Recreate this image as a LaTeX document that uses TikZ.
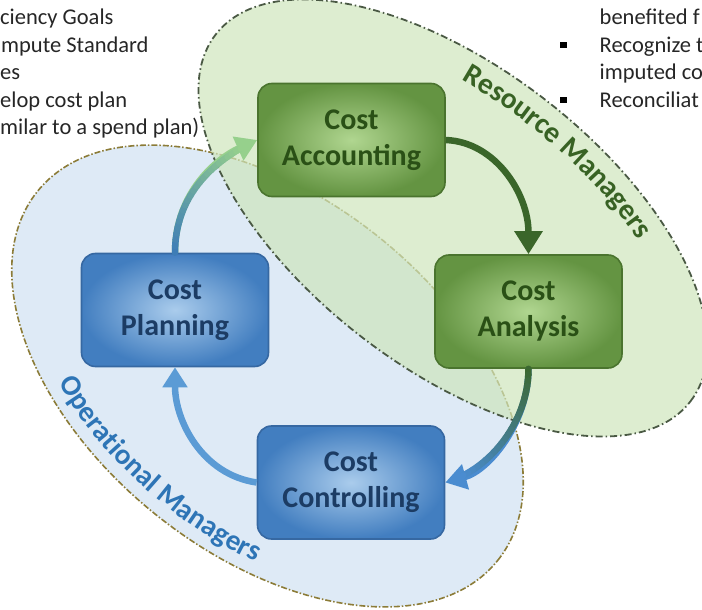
\documentclass[tikz,border=0pt]{standalone}
\usepackage{fontspec}
\setmainfont{Carlito}
\usetikzlibrary{arrows.meta,decorations.text}

\definecolor{opfill}{RGB}{222,234,246}
\definecolor{opedge}{RGB}{140,124,56}
\definecolor{resfill}{RGB}{206,229,188}
\definecolor{resedge}{RGB}{74,89,68}
\definecolor{gboxin}{RGB}{176,214,144}
\definecolor{gboxout}{RGB}{100,148,66}
\definecolor{gboxline}{RGB}{74,116,46}
\definecolor{gtext}{RGB}{42,80,22}
\definecolor{bboxin}{RGB}{170,204,236}
\definecolor{bboxout}{RGB}{66,126,192}
\definecolor{bboxline}{RGB}{54,104,162}
\definecolor{btext}{RGB}{28,60,100}
\definecolor{reslabel}{RGB}{56,98,36}
\definecolor{oplabel}{RGB}{46,117,182}
\definecolor{darkflow}{RGB}{58,102,42}
\definecolor{blueflow}{RGB}{74,140,208}
\definecolor{midblueflow}{RGB}{58,122,184}
\definecolor{lightblueflow}{RGB}{91,155,213}
\definecolor{lightgreenflow}{RGB}{150,208,140}
\definecolor{bodytext}{RGB}{38,38,38}

\newcommand\boxfont{\bfseries\fontsize{30}{36}\selectfont}
\newcommand\bodyfont{\fontsize{22.5}{27}\selectfont}
\newcommand\reslabelfont{\bfseries\fontsize{29.5}{29.5}\selectfont}
\newcommand\oplabelfont{\bfseries\fontsize{29}{29}\selectfont}

% curved connector whose colour runs from #5 (start) to #6 (end)
\newcommand\shadedflow[6]{%
  \draw[flowline, #6, -{Triangle[width=25pt,length=21pt]}] #1 .. controls #2 and #3 .. #4;
  \path #1 .. controls #2 and #3 .. #4
    foreach \k in {0,...,24} {coordinate[pos=\k*0.0375] (fl\k)};
  \foreach \k [remember=\k as \j (initially 0)] in {1,...,24} {%
    \pgfmathtruncatemacro\mixpct{round(100*\k/24)}%
    \draw[flowline, line cap=round, #6!\mixpct!#5] (fl\j) -- (fl\k);
  }%
}

\tikzset{
  stepbox/.style={rounded corners=14pt, minimum width=187pt, minimum height=113pt,
    inner sep=0pt, line width=1.6pt, font=\boxfont, align=center},
  greenbox/.style={stepbox, draw=gboxline, inner color=gboxin, outer color=gboxout, text=gtext},
  bluebox/.style={stepbox, draw=bboxline, inner color=bboxin, outer color=bboxout, text=btext},
  flowline/.style={line width=6.5pt},
  bodyline/.style={anchor=base west, inner sep=0pt, font=\bodyfont, text=bodytext},
  bulletmark/.style={fill=black, minimum size=6.5pt, inner sep=0pt},
}

\begin{document}
\begin{tikzpicture}[x=1pt, y=-1pt]
\useasboundingbox (0,0) rectangle (702,610);

% operational managers region
\begin{scope}[shift={(267.5,376)}, rotate=-38.7]
  \fill[opfill] (0,0) ellipse[x radius=295pt, y radius=178pt];
  \draw[opedge, line width=1.6pt, dash pattern=on 6pt off 2pt on 1.5pt off 2pt]
    (0,0) ellipse[x radius=295pt, y radius=178pt];
\end{scope}

% resource managers region
\begin{scope}[shift={(453,218)}, rotate=-37.7]
  \fill[resfill, opacity=0.7] (0,0) ellipse[x radius=300pt, y radius=150pt];
  \draw[resedge, line width=1.8pt, dash pattern=on 7pt off 3pt on 1.5pt off 3pt]
    (0,0) ellipse[x radius=300pt, y radius=150pt];
  \path[decorate, decoration={text along path, text color=reslabel,
      text={|\reslabelfont|Resource Managers}, text align=left}]
    (107:266pt and 120pt) arc[start angle=107, end angle=25, x radius=266pt, y radius=120pt];
\end{scope}

\begin{scope}[shift={(267.5,376)}, rotate=-38.7]
  \path[decorate, decoration={text along path, text color=oplabel,
      text={|\oplabelfont|Operational Managers}, text align=left}]
    (235.5:281pt and 165pt) arc[start angle=235.5, end angle=310, x radius=281pt, y radius=165pt];
\end{scope}

% process steps
\node[greenbox] (acc)  at (351.5,140)   {Cost\\Accounting};
\node[greenbox] (ana)  at (528.5,311.5) {Cost\\Analysis};
\node[bluebox]  (plan) at (175,310)     {Cost\\Planning};
\node[bluebox]  (ctrl) at (351,482.5)   {Cost\\Controlling};

% cycle connectors
\shadedflow{(plan.north)}{+(0,-60)}{+(-40,18)}{(acc.west)}{midblueflow}{lightgreenflow}
\draw[flowline, darkflow, -{Triangle[width=27pt,length=23pt]}]
  (acc.east) .. controls +(50,2) and +(0,-60) .. (ana.north);
\shadedflow{(ana.south)}{+(0,52)}{+(45,-12.5)}{(ctrl.east)}{darkflow}{blueflow}
\draw[flowline, lightblueflow, -{Triangle[width=24pt,length=20pt]}]
  (ctrl.west) .. controls +(-55,-8) and +(0,53) .. (plan.south);

% notes, top left
\node[bodyline] (tl1) at (0,25)    {ciency Goals};
\node[bodyline] (tl2) at (1,52.5)  {mpute Standard};
\node[bodyline] (tl3) at (0,80)    {es};
\node[bodyline] (tl4) at (0,107.5) {elop cost plan};
\node[bodyline] (tl5) at (0,135)   {milar to a spend plan)};

% notes, top right
\node[bodyline] (tr1) at (599.5,25)    {benefited f};
\node[bulletmark] (b1) at (563.5,45) {};
\node[bodyline] (tr2) at (599.5,52.5)  {Recognize t};
\node[bodyline] (tr3) at (599.5,80)    {imputed co};
\node[bulletmark] (b2) at (563.5,100) {};
\node[bodyline] (tr4) at (599.5,107.5) {Reconciliat};
\end{tikzpicture}
\end{document}
